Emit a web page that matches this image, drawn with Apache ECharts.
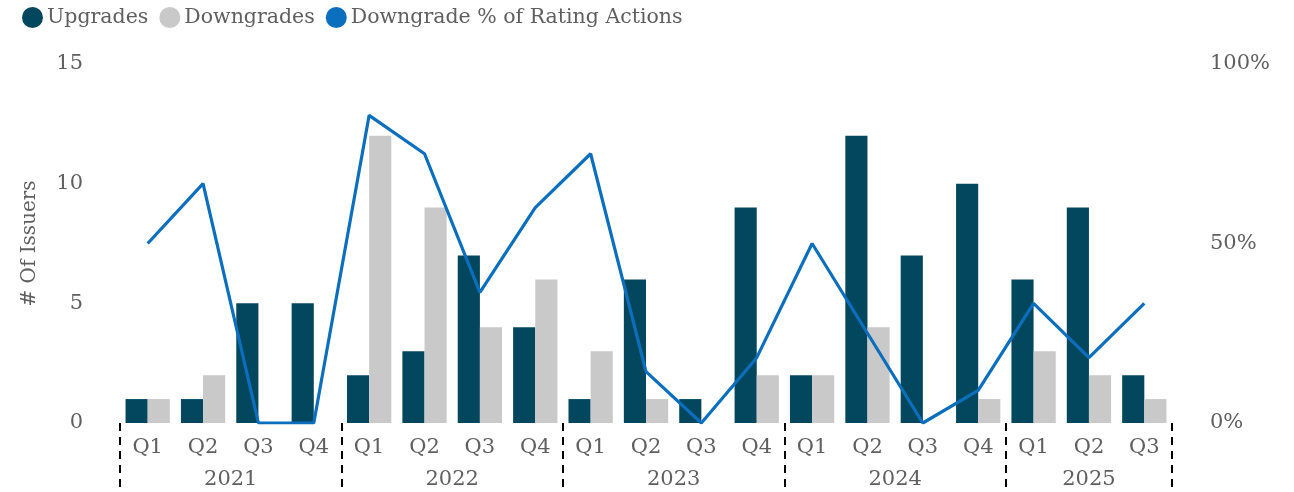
<!DOCTYPE html>
<html>
<head>
<meta charset="utf-8">
<script src="https://cdn.jsdelivr.net/npm/echarts@6/dist/echarts.min.js"></script>
<style>
  html, body { margin: 0; padding: 0; background: #ffffff; }
  #chart { width: 1294px; height: 492px; }
</style>
</head>
<body>
<div id="chart"></div>
<script>
// Quarterly rating actions, 2021 Q1 – 2025 Q3
const years = ['2021', '2022', '2023', '2024', '2025'];
const quartersPerYear = [4, 4, 4, 4, 3];
const quarters = ['Q1','Q2','Q3','Q4','Q1','Q2','Q3','Q4','Q1','Q2','Q3','Q4','Q1','Q2','Q3','Q4','Q1','Q2','Q3'];
const upgrades   = [1, 1, 5, 5, 2, 3, 7, 4, 1, 6, 1, 9, 2, 12, 7, 10, 6, 9, 2];
const downgrades = [1, 2, 0, 0, 12, 9, 4, 6, 3, 1, 0, 2, 2, 4, 0, 1, 3, 2, 1];
const downgradePct = [50, 66.7, 0, 0, 85.7, 75, 36.4, 60, 75, 14.3, 0, 18.2, 50, 25, 0, 9.1, 33.3, 18.2, 33.3];
const leftTicks = [0, 5, 10, 15];
const rightTicks = [0, 50, 100];

// year group boundaries and centres in category units
const bounds = [0];
const centres = [];
quartersPerYear.forEach(n => {
  const start = bounds[bounds.length - 1];
  centres.push(start + n / 2);
  bounds.push(start + n);
});

const FONT = '"DejaVu Serif", "Liberation Serif", serif';
const GREY = '#5f5f5f';

const chart = echarts.init(document.getElementById('chart'));
chart.setOption({
  animation: false,
  textStyle: { fontFamily: FONT },
  legend: {
    left: 17, top: 2,
    itemWidth: 21, itemHeight: 21, itemGap: 11,
    icon: 'circle',
    textStyle: { fontFamily: FONT, fontSize: 20.5, color: GREY, padding: [0, 0, 0, -1] },
    data: ['Upgrades', 'Downgrades', 'Downgrade % of Rating Actions']
  },
  grid: { left: 120, right: 122, top: 64, bottom: 69, containLabel: false },
  xAxis: [
    {
      type: 'category',
      data: quarters,
      position: 'bottom',
      axisLine: { show: false },
      axisTick: { show: false },
      axisLabel: { color: GREY, fontSize: 21, margin: 14, fontFamily: FONT }
    },
    {
      type: 'value',
      min: 0, max: quarters.length,
      position: 'bottom',
      splitLine: { show: false },
      axisLine: { show: false },
      axisTick: {
        show: true, length: 70, customValues: bounds,
        lineStyle: { color: '#000', width: 2, type: [8, 6] }
      },
      axisLabel: {
        customValues: centres,
        margin: 46,
        color: GREY, fontSize: 21, fontFamily: FONT,
        formatter: v => years[centres.indexOf(v)]
      }
    }
  ],
  yAxis: [
    {
      type: 'value',
      min: 0, max: 15, interval: 5,
      name: '# Of Issuers',
      nameLocation: 'middle',
      nameGap: 80,
      nameRotate: 90,
      nameTextStyle: { color: GREY, fontSize: 20, fontFamily: FONT },
      splitLine: { show: false },
      axisLine: { show: false },
      axisTick: { show: false },
      axisLabel: {
        color: GREY, fontSize: 21, margin: 37, fontFamily: FONT,
        customValues: leftTicks
      }
    },
    {
      type: 'value',
      min: 0, max: 100, interval: 50,
      position: 'right',
      splitLine: { show: false },
      axisLine: { show: false },
      axisTick: { show: false },
      axisLabel: {
        color: GREY, fontSize: 21, margin: 38, fontFamily: FONT,
        customValues: rightTicks,
        formatter: v => v + '%'
      }
    }
  ],
  series: [
    {
      name: 'Upgrades', type: 'bar', xAxisIndex: 0, yAxisIndex: 0,
      data: upgrades, barGap: '0%', barCategoryGap: '20%',
      itemStyle: { color: '#03475f' }
    },
    {
      name: 'Downgrades', type: 'bar', xAxisIndex: 0, yAxisIndex: 0,
      data: downgrades, barGap: '0%', barCategoryGap: '20%',
      itemStyle: { color: '#c9c9c9' }
    },
    {
      name: 'Downgrade % of Rating Actions', type: 'line', xAxisIndex: 0, yAxisIndex: 1,
      data: downgradePct, showSymbol: false, symbol: 'none',
      lineStyle: { color: '#0b6fbd', width: 3.2 },
      itemStyle: { color: '#0b6fbd' }
    }
  ]
});
</script>
</body>
</html>
